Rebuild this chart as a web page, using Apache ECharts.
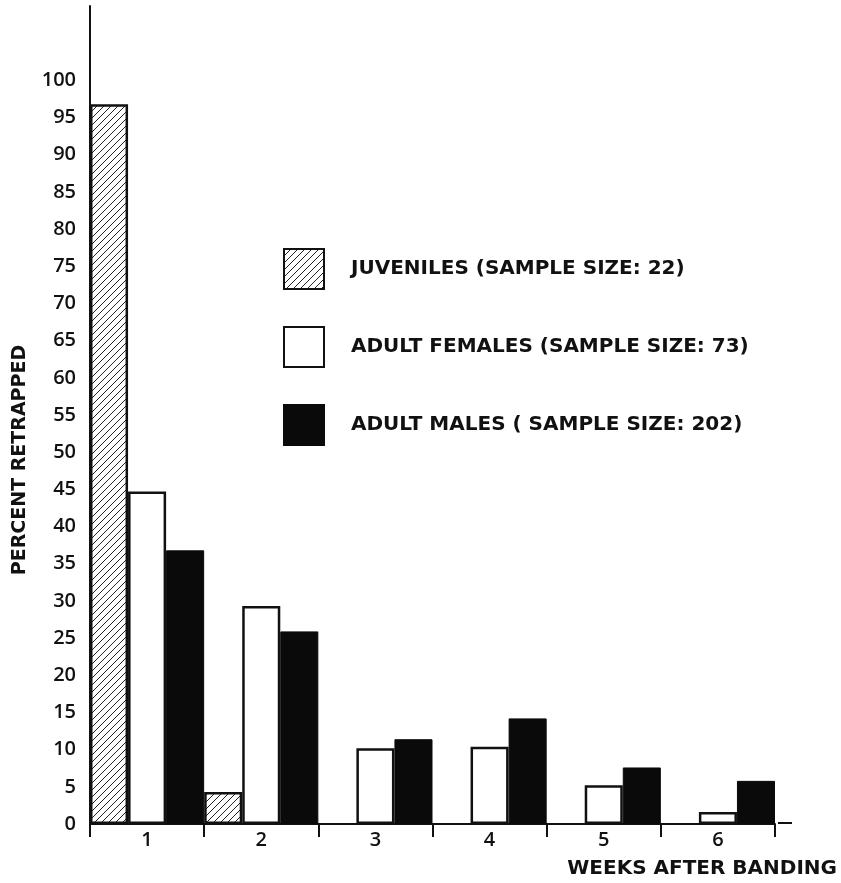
<!DOCTYPE html>
<html>
<head>
<meta charset="utf-8">
<style>
  html, body { margin: 0; padding: 0; background: #fff; }
  #chart { width: 841px; height: 883px; }
</style>
<script src="https://cdn.jsdelivr.net/npm/echarts@6/dist/echarts.min.js"></script>
</head>
<body>
<div id="chart"></div>
<script>
// Weeks after banding
const weeks = ['1', '2', '3', '4', '5', '6'];

// Percent retrapped per group (null = no bar)
const juveniles = [96.8, 4.3, null, null, null, null];
const adultFemales = [44.7, 29.3, 10.2, 10.4, 5.2, 1.6];
const adultMales = [36.8, 25.9, 11.4, 14.2, 7.6, 5.8];

const seriesNames = [
  'JUVENILES (SAMPLE SIZE: 22)',
  'ADULT FEMALES (SAMPLE SIZE: 73)',
  'ADULT MALES ( SAMPLE SIZE: 202)'
];

// Diagonal hatch fill for the juvenile bars
function hatchPattern() {
  const s = 7;
  const c = document.createElement('canvas');
  c.width = s; c.height = s;
  const g = c.getContext('2d');
  g.fillStyle = '#fff';
  g.fillRect(0, 0, s, s);
  g.strokeStyle = '#222';
  g.lineWidth = 1;
  g.beginPath();
  g.moveTo(0, s); g.lineTo(s, 0);
  g.moveTo(-1, 1); g.lineTo(1, -1);
  g.moveTo(s - 1, s + 1); g.lineTo(s + 1, s - 1);
  g.stroke();
  return c;
}

const NUM_FONT = '"Open Sans"';
const TXT_FONT = '"DejaVu Sans"';
const chart = echarts.init(document.getElementById('chart'));

chart.setOption({
  animation: false,
  backgroundColor: '#fff',
  grid: { left: 90, right: 66, top: 6, bottom: 59 },
  legend: {
    orient: 'vertical',
    left: 278,
    top: 243,
    itemWidth: 40,
    itemHeight: 40,
    itemGap: 36,
    icon: 'rect',
    textStyle: { fontFamily: TXT_FONT, fontWeight: 'bold', fontSize: 20, color: '#111', padding: [0, 0, 0, 22] },
    data: seriesNames
  },
  xAxis: {
    type: 'category',
    data: weeks,
    boundaryGap: true,
    axisLine: { lineStyle: { color: '#111', width: 2 } },
    axisTick: { show: true, alignWithLabel: false, length: 13, lineStyle: { color: '#111', width: 2 } },
    axisLabel: { fontFamily: NUM_FONT, fontWeight: 600, fontSize: 20, color: '#111', margin: 6 },
    splitLine: { show: false }
  },
  yAxis: {
    type: 'value',
    min: 0,
    max: 110,
    interval: 5,
    axisLine: { show: true, lineStyle: { color: '#111', width: 2 } },
    axisTick: { show: false },
    splitLine: { show: false },
    axisLabel: {
      fontFamily: NUM_FONT, fontWeight: 600, fontSize: 20, color: '#111', margin: 14,
      formatter: v => (v <= 100 ? String(v) : '')
    }
  },
  graphic: [
    {
      type: 'text',
      x: 20,
      y: 460,
      rotation: Math.PI / 2,
      style: {
        text: 'PERCENT RETRAPPED', fontFamily: TXT_FONT, fontWeight: 'bold', fontSize: 19, fill: '#111',
        align: 'center', verticalAlign: 'middle'
      }
    },
    {
      type: 'text',
      right: 4,
      top: 859,
      style: { text: 'WEEKS AFTER BANDING', fontFamily: TXT_FONT, fontWeight: 'bold', fontSize: 20, fill: '#111' }
    },
    {
      type: 'line',
      shape: { x1: 778, y1: 823, x2: 792, y2: 823 },
      style: { stroke: '#111', lineWidth: 2 }
    }
  ],
  series: [
    {
      name: seriesNames[0],
      type: 'bar',
      data: juveniles,
      barGap: '0%',
      barCategoryGap: '0%',
      itemStyle: { color: { image: hatchPattern(), repeat: 'repeat' }, borderColor: '#111', borderWidth: 2.5 }
    },
    {
      name: seriesNames[1],
      type: 'bar',
      data: adultFemales,
      barGap: '0%',
      barCategoryGap: '0%',
      itemStyle: { color: '#fff', borderColor: '#111', borderWidth: 2.5 }
    },
    {
      name: seriesNames[2],
      type: 'bar',
      data: adultMales,
      barGap: '0%',
      barCategoryGap: '0%',
      itemStyle: { color: '#0a0a0a', borderColor: '#0a0a0a', borderWidth: 1 }
    }
  ]
});
</script>
</body>
</html>
